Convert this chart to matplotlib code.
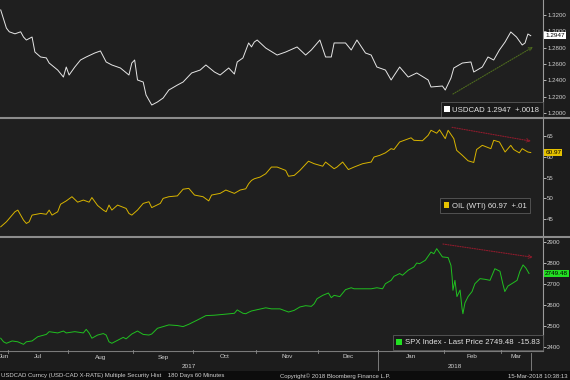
import numpy as np
import pandas as pd
import matplotlib
matplotlib.use('Agg')
import matplotlib.pyplot as plt
from matplotlib.patches import Rectangle
from matplotlib.lines import Line2D
from matplotlib.transforms import blended_transform_factory

plt.rcParams['font.family'] = ['Liberation Sans', 'DejaVu Sans']

# x = trading days counted from 26-Jun-2017 (60 minute bars)
usd_t = [2, 4, 5, 7, 9, 10, 11, 13, 14, 16, 18, 19, 22, 24, 25, 26, 28, 30, 32, 35,
         37, 39, 41, 44, 47, 48, 49, 50, 52, 53, 55, 57, 59, 61, 64, 66, 69, 72, 74, 77,
         79, 82, 84, 85, 87, 89, 90, 91, 92, 95, 99, 102, 106, 109, 111, 114, 116, 118, 119, 123,
         125, 127, 130, 132, 134, 137, 139, 142, 145, 148, 152, 153, 157, 158, 160, 161, 164, 167, 168, 171,
         173, 175, 177, 179, 181, 183, 185, 186, 187, 188]
usd_v = [1.3263, 1.3040, 1.2995, 1.2970, 1.2995, 1.2931, 1.2894, 1.2931, 1.2747, 1.2686,
         1.2675, 1.2612, 1.2526, 1.2440, 1.2563, 1.2465, 1.2563, 1.2649, 1.2686, 1.2735,
         1.2760, 1.2625, 1.2588, 1.2551, 1.2465, 1.2612, 1.2649, 1.2404, 1.2379, 1.2220,
         1.2097, 1.2134, 1.2183, 1.2281, 1.2342, 1.2379, 1.2490, 1.2526, 1.2588, 1.2502,
         1.2465, 1.2551, 1.2477, 1.2625, 1.2674, 1.2858, 1.2810, 1.2870, 1.2894, 1.2796,
         1.2710, 1.2747, 1.2809, 1.2710, 1.2772, 1.2894, 1.2686, 1.2686, 1.2858, 1.2858,
         1.2772, 1.2894, 1.2735, 1.2710, 1.2563, 1.2526, 1.2404, 1.2563, 1.2440, 1.2490,
         1.2404, 1.2318, 1.2330, 1.2281, 1.2428, 1.2551, 1.2612, 1.2625, 1.2502, 1.2563,
         1.2686, 1.2649, 1.2772, 1.2870, 1.2993, 1.2931, 1.2833, 1.2858, 1.2968, 1.2947]

oil_t = [2, 4, 5, 7, 8, 9, 10, 11, 12, 13, 16, 18, 19, 20, 22, 23, 25, 27, 29, 31,
         33, 34, 36, 38, 39, 40, 41, 43, 46, 47, 48, 50, 52, 54, 55, 58, 59, 61, 64, 66,
         68, 70, 73, 75, 76, 79, 81, 84, 86, 88, 89, 90, 91, 93, 95, 97, 99, 102, 103, 105,
         107, 110, 112, 115, 116, 119, 120, 122, 124, 126, 129, 132, 133, 135, 137, 139, 140, 142, 144, 146,
         147, 150, 152, 153, 155, 156, 158, 159, 161, 162, 164, 166, 168, 169, 171, 174, 175, 177, 179, 181,
         182, 184, 185, 187, 188]
oil_v = [43.2, 44.4, 45.2, 46.8, 47.2, 46.0, 44.8, 44.0, 44.4, 46.0,
         46.4, 46.2, 47.2, 46.0, 46.8, 48.6, 49.4, 50.4, 49.1, 49.6,
         49.1, 50.2, 48.3, 47.2, 46.8, 48.4, 47.2, 48.4, 47.6, 46.4,
         46.0, 47.2, 48.8, 49.2, 47.8, 48.8, 50.0, 50.4, 50.6, 52.2,
         52.4, 50.8, 50.4, 49.4, 50.8, 51.2, 52.0, 51.2, 52.0, 52.3,
         53.5, 54.3, 54.7, 55.1, 55.9, 57.5, 57.5, 56.7, 55.3, 55.5,
         56.7, 58.9, 58.3, 57.7, 58.7, 57.1, 57.5, 58.7, 56.9, 57.5,
         58.3, 58.7, 59.9, 60.3, 60.9, 61.9, 61.7, 63.5, 64.0, 64.5,
         63.9, 63.8, 65.1, 66.3, 65.6, 66.4, 64.3, 66.3, 64.3, 61.5,
         60.3, 59.0, 58.6, 61.7, 62.7, 61.9, 63.9, 63.5, 61.1, 62.7,
         61.7, 60.9, 61.9, 61.1, 60.97]

spx_t = [2, 3, 4, 6, 8, 10, 11, 13, 15, 18, 19, 22, 24, 25, 28, 31, 32, 33, 34, 36,
         38, 39, 40, 41, 43, 45, 46, 48, 50, 52, 54, 55, 57, 59, 61, 64, 66, 68, 71, 74,
         77, 81, 84, 85, 87, 88, 89, 90, 92, 95, 97, 100, 103, 105, 107, 109, 111, 112, 113, 115,
         117, 118, 119, 121, 123, 125, 126, 129, 132, 134, 136, 137, 139, 140, 142, 143, 145, 147, 148, 149,
         151, 153, 154, 155, 157, 159, 160, 160.4, 160.7, 161.4, 162.1, 163.2, 163.9, 164.2, 164.9, 166, 167.4, 168.4, 170.2, 171.9,
         173.7, 175.4, 177.2, 178.2, 178.9, 180, 181.8, 183.2, 184.2, 185.3, 186.3, 187.4]
spx_v = [2443, 2426, 2419, 2430, 2426, 2414, 2426, 2430, 2450, 2461,
         2474, 2468, 2477, 2468, 2474, 2468, 2485, 2468, 2443, 2458,
         2465, 2458, 2426, 2419, 2433, 2447, 2440, 2463, 2477, 2461,
         2458, 2463, 2490, 2498, 2506, 2503, 2498, 2509, 2529, 2550,
         2552, 2557, 2561, 2577, 2561, 2559, 2566, 2572, 2578, 2587,
         2582, 2582, 2567, 2575, 2591, 2597, 2594, 2606, 2630, 2646,
         2657, 2635, 2646, 2640, 2673, 2682, 2677, 2677, 2677, 2682,
         2677, 2701, 2717, 2736, 2749, 2741, 2765, 2780, 2799, 2796,
         2812, 2851, 2843, 2867, 2828, 2825, 2788, 2733, 2670, 2717,
         2640, 2671, 2583, 2559, 2610, 2640, 2664, 2701, 2725, 2722,
         2717, 2772, 2760, 2701, 2664, 2690, 2705, 2717, 2760, 2790,
         2775, 2749.48]

usd_ticks = [1.20, 1.22, 1.24, 1.26, 1.28, 1.30, 1.32]
oil_ticks = [45, 50, 55, 60, 65]
spx_ticks = [2400, 2500, 2600, 2700, 2800, 2900]

usd_label = 'USDCAD 1.2947  +.0018'
oil_label = 'OIL (WTI) 60.97  +.01'
spx_label = 'SPX Index - Last Price 2749.48  -15.83'

# trend arrows (start day, start value, end day, end value)
usd_arrow = (160.7, 1.2232, 188.8, 1.2809)
oil_arrow = (160.4, 67.0, 188.1, 63.7)
spx_arrow = (157.2, 2889, 188.8, 2826)

days = pd.bdate_range('2017-06-26', '2018-03-30')

BG = '#1f1f1f'
W, H = 570, 380
fig = plt.figure(figsize=(W / 100, H / 100), dpi=100, facecolor='#1c1c1c')
xl = (1.75, 192.3)


def panel(top, bottom, ylim, ticks, fmt):
    ax = fig.add_axes([0, 1 - bottom / H, 543 / W, (bottom - top) / H])
    ax.set_facecolor(BG)
    ax.set_xlim(*xl)
    ax.set_ylim(*ylim)
    for s in ['top', 'left', 'bottom']:
        ax.spines[s].set_visible(False)
    ax.spines['right'].set_color('#9a9a9a')
    ax.spines['right'].set_linewidth(0.8)
    ax.yaxis.tick_right()
    ax.set_yticks(ticks)
    ax.set_yticklabels([fmt.format(v) for v in ticks])
    ax.tick_params(axis='y', colors='#cfcfcf', labelsize=4.4, length=2, width=0.6, pad=1)
    ax.set_xticks([])
    return ax


ax1 = panel(0, 117, (1.1950, 1.3385), usd_ticks, '{:.4f}')
ax2 = panel(119, 236, (41.0, 69.0), oil_ticks, '{:d}')
ax3 = panel(238, 350, (2387.2, 2917.5), spx_ticks, '{:d}')

ax1.plot(usd_t, usd_v, color='#e6e6e6', lw=0.7)
ax2.plot(oil_t, oil_v, color='#d8b400', lw=0.7)
ax3.plot(spx_t, spx_v, color='#20c020', lw=0.7)

for ax, arr, col in [(ax1, usd_arrow, '#4d6a1e'), (ax2, oil_arrow, '#8e1b2c'), (ax3, spx_arrow, '#8e1b2c')]:
    ax.annotate('', xy=(arr[2], arr[3]), xytext=(arr[0], arr[1]),
                arrowprops=dict(arrowstyle='->', linestyle=(0, (1, 1.2)), color=col, lw=0.8,
                                shrinkA=0, shrinkB=0, mutation_scale=6))

# last value tags on the right axis
for ax, v, txt, col in [(ax1, usd_v[-1], '1.2947', 'white'), (ax2, oil_v[-1], '60.97', '#e6c200'),
                        (ax3, spx_v[-1], '2749.48', '#22e022')]:
    tr = blended_transform_factory(ax.transAxes, ax.transData)
    ax.text(1.004, v, txt, transform=tr, ha='left', va='center', fontsize=4.6, color='black',
            clip_on=False, zorder=10,
            bbox=dict(boxstyle='square,pad=0.18', fc=col, ec='none'))


def legend_box(ax, label, col, anchor):
    h = Rectangle((0, 0), 1, 1, fc=col, ec='none')
    leg = ax.legend([h], [label], loc='lower right', bbox_to_anchor=anchor, borderaxespad=0,
                    frameon=True, fancybox=False, handlelength=0.75, handleheight=0.75,
                    handletextpad=0.3, borderpad=0.45, fontsize=5.6, labelcolor='#e2e2e2')
    fr = leg.get_frame()
    fr.set_facecolor('#1a1a1a')
    fr.set_edgecolor('#5a5a5a')
    fr.set_linewidth(0.6)
    fr.set_alpha(1)


legend_box(ax1, usd_label, 'white', (1.0, 0.0))
legend_box(ax2, oil_label, '#e6c200', (530 / 543, 23 / 117))
legend_box(ax3, spx_label, '#22e022', (1.0, 0.0))

# panel separators
for y in [118, 237]:
    fig.add_artist(Line2D([0, 1], [1 - y / H, 1 - y / H], color='#8c8c8c', lw=1.5))
fig.add_artist(Line2D([0, 543 / W], [1 - 350.5 / H] * 2, color='#7a7a7a', lw=0.8))

# month axis
bounds = [i - 0.5 for i in range(1, len(days)) if days[i].month != days[i - 1].month]
bounds = [b for b in bounds if b < usd_t[-1]]
edges = [xl[0]] + bounds + [usd_t[-1]]
names = [days[0].strftime('%b')] + [days[int(b + 0.5)].strftime('%b') for b in bounds]
bt = blended_transform_factory(ax3.transData, fig.transFigure)
for b in bounds:
    fig.add_artist(Line2D([b, b], [1 - 350 / H, 1 - 353 / H], color='#8a8a8a', lw=0.6, transform=bt))
for i, n in enumerate(names):
    ax3.text((edges[i] + edges[i + 1]) / 2, 1 - 357 / H, n, transform=bt, ha='center', va='center',
             fontsize=4.6, color='#cfcfcf', clip_on=False)

jan = [b for b in bounds if days[int(b + 0.5)].month == 1][0]
fig.add_artist(Line2D([jan, jan], [1 - 350 / H, 1 - 370 / H], color='#8a8a8a', lw=0.6, transform=bt))
fig.add_artist(Line2D([usd_t[-1], usd_t[-1]], [1 - 353 / H, 1 - 370 / H], color='#8a8a8a', lw=0.6, transform=bt))
ax3.text((xl[0] + jan) / 2, 1 - 367 / H, '2017', transform=bt, ha='center', va='center',
         fontsize=4.6, color='#cfcfcf', clip_on=False)
ax3.text((jan + usd_t[-1]) / 2, 1 - 367 / H, '2018', transform=bt, ha='center', va='center',
         fontsize=4.6, color='#cfcfcf', clip_on=False)

# footer
fig.patches.append(Rectangle((0, 0), 1, 1 - 371 / H, transform=fig.transFigure, fc='#0c0c0c', ec='none', zorder=0))
fy = 1 - 376 / H
fig.text(0.002, fy, 'USDCAD Curncy (USD-CAD X-RATE) Multiple Security Hist    180 Days 60 Minutes',
         fontsize=4.3, color='#d0d0d0', va='center', ha='left')
fig.text(335 / W, fy, 'Copyright\u00a9 2018 Bloomberg Finance L.P.', fontsize=4.3, color='#d0d0d0',
         va='center', ha='center')
fig.text(0.995, fy, '15-Mar-2018 10:38:13', fontsize=4.3, color='#d0d0d0', va='center', ha='right')

fig.savefig('out.png', dpi=100, facecolor=fig.get_facecolor())
